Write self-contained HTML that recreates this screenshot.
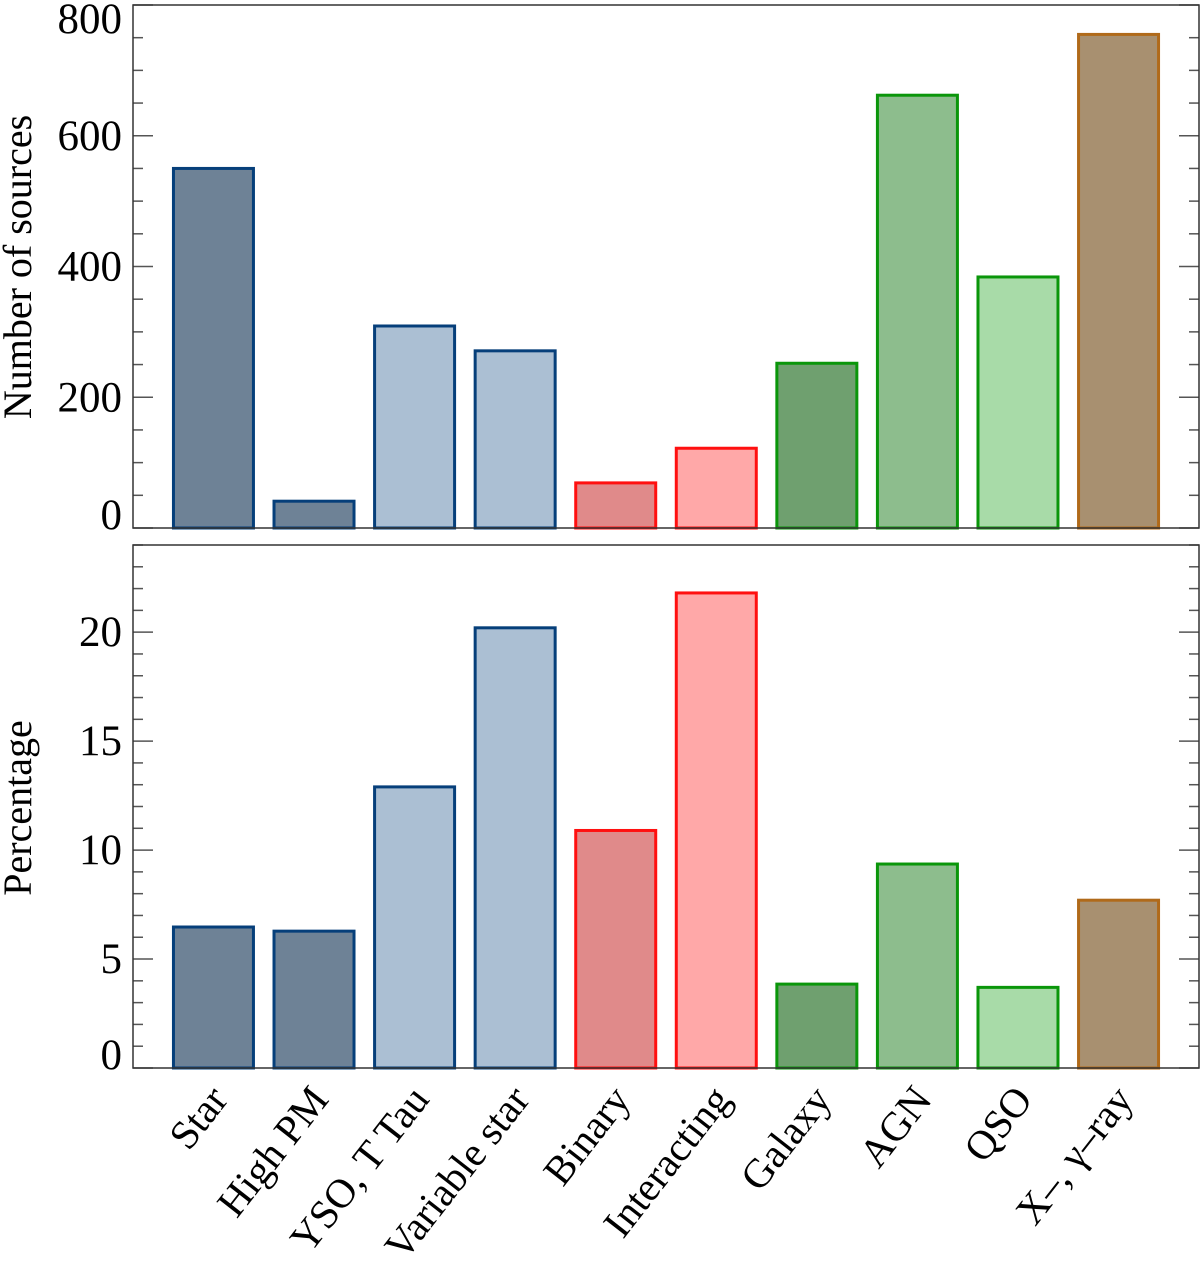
<!DOCTYPE html>
<html><head><meta charset="utf-8"><style>
html,body{margin:0;padding:0;background:#fff;}
svg{display:block;font-family:"Liberation Serif",serif;}
</style></head><body>
<svg id="chart" width="1200" height="1265" viewBox="0 0 1200 1265" xmlns="http://www.w3.org/2000/svg"></svg>
<script>
const categories=["Star","High PM","YSO, T Tau","Variable star","Binary","Interacting","Galaxy","AGN","QSO","X\u2013, \u03b3\u2013ray"];
const counts=[550,41,309,271,69,122,252,662,384,755];
const percentages=[6.47,6.28,12.9,20.2,10.9,21.8,3.85,9.36,3.7,7.7];
const topTicks=[0,200,400,600,800];
const bottomTicks=[0,5,10,15,20];
const fills=["#6e8296","#6e8296","#abbfd3","#abbfd3","#e08a8a","#ffa8a8","#6fa06f","#8dbd8d","#a8dba8","#a89070"];
const strokes=["#063f7a","#063f7a","#063f7a","#063f7a","#ff1010","#ff1010","#0a960a","#0a960a","#0a960a","#b06a1a"];

const svg=document.getElementById('chart');
const NS='http://www.w3.org/2000/svg';
const L=133,R=1199;
const x=i=>L+(i+0.8)*((R-L)/10.6);
const barW=80;
function mk(t,a,parent){const e=document.createElementNS(NS,t);for(const k in a)e.setAttribute(k,a[k]);(parent||svg).appendChild(e);return e;}

function panel(name,top,bottom,ymax,vals,ticks,minorStep,title,titleY){
  const y=v=>bottom-(v/ymax)*(bottom-top);
  const g=mk('g',{});
  
  
  vals.forEach((v,i)=>{
    const r=mk('rect',{x:x(i)-barW/2,y:y(v),width:barW,height:bottom-y(v),fill:fills[i],stroke:strokes[i],'stroke-width':3},g);
    
    
  });
  for(let v=0;v<=ymax+1e-9;v+=minorStep){
    const major=ticks.some(t=>Math.abs(t-v)<1e-9);
    const len=major?20:10;
    const yy=y(v);
    const t1=mk('line',{x1:L,x2:L+len,y1:yy,y2:yy,stroke:'#555','stroke-width':1.5},g);
    
    
    const t2=mk('line',{x1:R-len,x2:R,y1:yy,y2:yy,stroke:'#555','stroke-width':1.5},g);
    
    
  }
  ticks.forEach(t=>{
    let cy=y(t);
    if(cy-top<14) cy=top+14;
    if(bottom-cy<14) cy=bottom-13;
    const tx=mk('text',{x:122,y:cy+14,'text-anchor':'end','font-size':43,fill:'#000'},g);
    tx.textContent=t;
    
    
  });
  const fr=mk('rect',{x:L,y:top,width:R-L,height:bottom-top,fill:'none',stroke:'#333','stroke-width':1.5},g);
  
  
  const at=mk('text',{x:0,y:0,'text-anchor':'middle','font-size':40,transform:`translate(31,${titleY}) rotate(-90)`},g);
  at.textContent=title;
  
  
}
panel('counts',5,528,800,counts,topTicks,50,'Number of sources',267);
panel('percentage',545,1068,24,percentages,bottomTicks,1,'Percentage',808);

categories.forEach((c,i)=>{
  const t=mk('text',{x:0,y:0,'text-anchor':'end','font-size':41,transform:`translate(${x(i)+16},${1100}) rotate(-52)`});
  t.textContent=c;
  
  
});
</script>
</body></html>
